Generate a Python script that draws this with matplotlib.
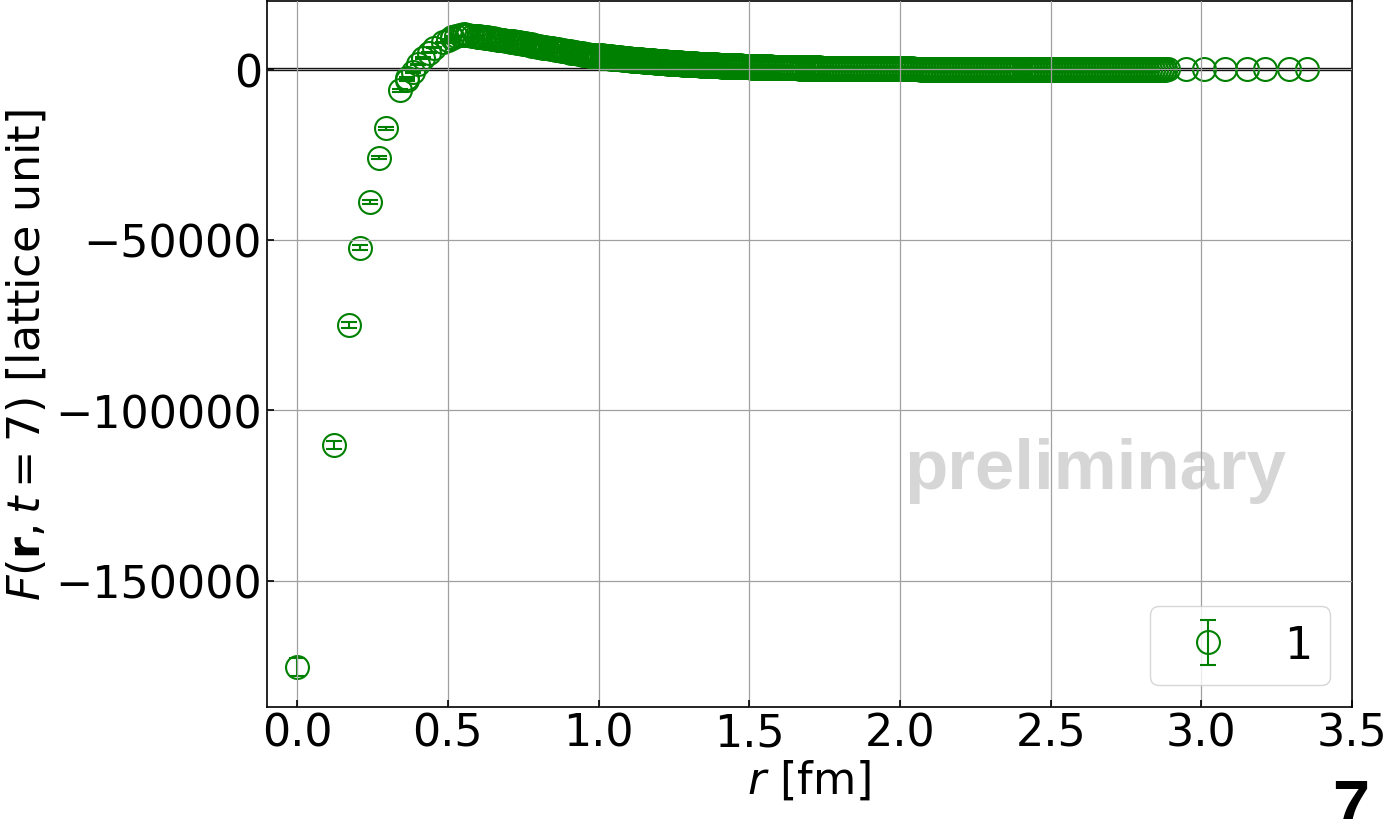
import numpy as np
import matplotlib
matplotlib.use("Agg")
import matplotlib.pyplot as plt


# DATA #

# short distances, error bars visible
r_core = [0.000, 0.121, 0.171, 0.210, 0.242, 0.271, 0.296, 0.342, 0.363, 0.363,
          0.383, 0.401, 0.419, 0.436, 0.453, 0.484, 0.499, 0.513, 0.513, 0.527]
F_core = [-175200, -110200, -75100, -52300, -38900, -26000, -17300, -6200, -2600, -3300,
          -900, 1400, 3300, 4800, 6300, 7900, 8700, 9100, 9500, 9700]
err_core = [2600, 1300, 900, 700, 500, 450, 400, 350, 300, 300,
            250, 250, 200, 200, 200, 150, 150, 150, 150, 150]

# peak region (two sets of lattice points)
r_peak = [0.541, 0.555, 0.568, 0.593, 0.605, 0.605, 0.617, 0.629, 0.640, 0.651,
          0.663, 0.673, 0.684, 0.705, 0.716, 0.726, 0.736, 0.746, 0.756, 0.766,
          0.775, 0.785, 0.794, 0.803, 0.812, 0.821, 0.839, 0.847, 0.856, 0.865,
          0.873, 0.882, 0.890, 0.906, 0.914, 0.922, 0.930, 0.938, 0.946, 0.954,
          0.961, 0.969, 0.977, 0.984, 0.992]
F_peak = [10000, 10200, 10100, 9800, 9300, 9700, 9500, 9300, 9200, 9000,
          8900, 8700, 8600, 8400, 8300, 8100, 7900, 7800, 7600, 7400,
          7300, 7100, 6900, 6800, 6600, 6500, 6200, 6100, 5900, 5800,
          5700, 5500, 5400, 5200, 5000, 4900, 4800, 4700, 4600, 4500,
          4400, 4300, 4200, 4100, 4000]
r_peak2 = [0.548, 0.561, 0.580, 0.599, 0.611, 0.623, 0.634, 0.646, 0.657, 0.668,
           0.679, 0.694, 0.710, 0.721, 0.731, 0.741, 0.751, 0.761, 0.770, 0.780,
           0.789, 0.798, 0.807, 0.816, 0.830, 0.843, 0.852, 0.860, 0.869, 0.878,
           0.886, 0.898, 0.910, 0.918, 0.926, 0.934, 0.942, 0.950, 0.958, 0.965,
           0.973, 0.980, 0.988, 0.996]
F_peak2 = [10100, 10000, 9800, 9500, 9400, 9200, 9100, 8900, 8800, 8600,
           8500, 8300, 8000, 7900, 7700, 7600, 7400, 7300, 7100, 6900,
           6800, 6600, 6500, 6300, 6100, 5900, 5800, 5600, 5500, 5300,
           5200, 5000, 4800, 4700, 4600, 4500, 4400, 4300, 4200, 4100,
           4000, 3900, 3800, 3700]

# dense band 1.00 - 2.88 fm (upper and lower edge of the scatter)
r_band = [1.00, 1.01, 1.02, 1.03, 1.04, 1.05, 1.06, 1.07, 1.08, 1.09,
          1.10, 1.11, 1.12, 1.13, 1.14, 1.15, 1.16, 1.17, 1.18, 1.19,
          1.20, 1.21, 1.22, 1.23, 1.24, 1.25, 1.26, 1.27, 1.28, 1.29,
          1.30, 1.31, 1.32, 1.33, 1.34, 1.35, 1.36, 1.37, 1.38, 1.39,
          1.40, 1.41, 1.42, 1.43, 1.44, 1.45, 1.46, 1.47, 1.48, 1.49,
          1.50, 1.51, 1.52, 1.53, 1.54, 1.55, 1.56, 1.57, 1.58, 1.59,
          1.60, 1.61, 1.62, 1.63, 1.64, 1.65, 1.66, 1.67, 1.68, 1.69,
          1.70, 1.71, 1.72, 1.73, 1.74, 1.75, 1.76, 1.77, 1.78, 1.79,
          1.80, 1.81, 1.82, 1.83, 1.84, 1.85, 1.86, 1.87, 1.88, 1.89,
          1.90, 1.91, 1.92, 1.93, 1.94, 1.95, 1.96, 1.97, 1.98, 1.99,
          2.00, 2.01, 2.02, 2.03, 2.04, 2.05, 2.06, 2.07, 2.08, 2.09,
          2.10, 2.11, 2.12, 2.13, 2.14, 2.15, 2.16, 2.17, 2.18, 2.19,
          2.20, 2.21, 2.22, 2.23, 2.24, 2.25, 2.26, 2.27, 2.28, 2.29,
          2.30, 2.31, 2.32, 2.33, 2.34, 2.35, 2.36, 2.37, 2.38, 2.39,
          2.40, 2.41, 2.42, 2.43, 2.44, 2.45, 2.46, 2.47, 2.48, 2.49,
          2.50, 2.51, 2.52, 2.53, 2.54, 2.55, 2.56, 2.57, 2.58, 2.59,
          2.60, 2.61, 2.62, 2.63, 2.64, 2.65, 2.66, 2.67, 2.68, 2.69,
          2.70, 2.71, 2.72, 2.73, 2.74, 2.75, 2.76, 2.77, 2.78, 2.79,
          2.80, 2.81, 2.82, 2.83, 2.84, 2.85, 2.86, 2.87, 2.88]
F_band_hi = [4200, 4100, 4000, 3900, 3800, 3700, 3600, 3500, 3400, 3300,
             3200, 3120, 3040, 2960, 2880, 2800, 2730, 2660, 2590, 2520,
             2450, 2380, 2310, 2240, 2170, 2100, 2040, 1980, 1920, 1860,
             1800, 1750, 1700, 1650, 1600, 1550, 1510, 1470, 1430, 1390,
             1350, 1310, 1270, 1230, 1190, 1150, 1120, 1090, 1060, 1030,
             1000, 970, 940, 910, 880, 850, 820, 800, 770, 750,
             720, 700, 680, 660, 640, 620, 600, 590, 570, 560,
             540, 530, 510, 500, 480, 470, 460, 450, 430, 420,
             410, 400, 390, 380, 370, 360, 350, 340, 330, 320,
             310, 300, 290, 290, 280, 270, 260, 250, 250, 240,
             230, 220, 220, 210, 210, 200, 190, 190, 180, 180,
             170, 170, 160, 160, 150, 150, 140, 140, 130, 130,
             120, 120, 120, 110, 110, 110, 100, 100, 100, 90,
             90, 90, 90, 90, 80, 80, 80, 80, 80, 70,
             70, 70, 70, 70, 70, 70, 60, 60, 60, 60,
             60, 60, 60, 60, 60, 60, 60, 60, 50, 50,
             50, 50, 50, 50, 50, 50, 50, 50, 40, 40,
             40, 40, 40, 40, 40, 40, 40, 40, 30, 30,
             30, 30, 30, 30, 30, 20, 20, 20, 20]
F_band_lo = [3500, 3400, 3300, 3200, 3100, 3000, 2920, 2840, 2760, 2680,
             2600, 2520, 2440, 2360, 2280, 2200, 2130, 2060, 1990, 1920,
             1850, 1780, 1710, 1640, 1570, 1500, 1440, 1380, 1320, 1260,
             1200, 1160, 1120, 1080, 1040, 1000, 960, 920, 880, 840,
             800, 770, 740, 710, 680, 650, 620, 590, 560, 530,
             500, 480, 460, 440, 420, 400, 380, 360, 340, 320,
             300, 280, 270, 250, 240, 220, 210, 200, 180, 170,
             160, 150, 140, 130, 120, 110, 100, 90, 80, 80,
             70, 60, 50, 50, 40, 30, 20, 20, 10, 0,
             0, -10, -10, -20, -30, -30, -40, -40, -50, -50,
             -60, -70, -70, -80, -80, -90, -90, -100, -110, -110,
             -120, -120, -130, -130, -140, -140, -150, -150, -160, -160,
             -170, -170, -180, -180, -180, -190, -190, -190, -200, -200,
             -200, -200, -210, -210, -210, -210, -210, -220, -220, -220,
             -220, -220, -220, -230, -230, -230, -230, -230, -230, -230,
             -230, -230, -230, -230, -230, -230, -230, -230, -230, -230,
             -230, -230, -230, -230, -230, -220, -220, -220, -220, -220,
             -220, -220, -220, -210, -210, -210, -210, -200, -200, -200,
             -200, -190, -190, -180, -170, -170, -160, -160, -150]

# sparse tail near the box corner
r_tail = [2.89, 2.95, 3.01, 3.08, 3.15, 3.21, 3.29, 3.35]
F_tail = [-50, -30, -20, -10, -10, 0, 0, 0]

assert len(r_peak) == len(F_peak) and len(r_peak2) == len(F_peak2)
assert len(r_band) == len(F_band_hi) == len(F_band_lo)

xticks = [0.0, 0.5, 1.0, 1.5, 2.0, 2.5, 3.0, 3.5]
yticks = [-150000, -100000, -50000, 0]


# PLOT #

fs = 32
plt.rcParams['font.family'] = 'DejaVu Sans'
plt.rcParams['mathtext.fontset'] = 'dejavusans'

fig = plt.figure(figsize=(13.95, 8.2), dpi=100)
ax = fig.add_axes([0.1914, 0.1366, 0.7778, 0.861])

col = 'green'
mk = dict(fmt='o', color=col, mfc='none', ms=16.5, mew=1.5)
ax.errorbar(r_core, F_core, yerr=err_core, elinewidth=1.5, capsize=6, capthick=1.5,
            label='1', zorder=2, **mk)
for rr, ff in [(r_peak, F_peak), (r_peak2, F_peak2), (r_band, F_band_hi),
               (r_band, F_band_lo), (r_tail, F_tail)]:
    ax.errorbar(rr, ff, zorder=2, **mk)

ax.axhline(0, color='black', lw=2.4, zorder=1)

ax.set_xlim(-0.1, 3.5)
ax.set_ylim(-187000, 20000)
ax.set_xticks(xticks)
ax.set_yticks(yticks)
ax.set_xticklabels(['%.1f' % v for v in xticks])

ax.set_axisbelow(False)
ax.grid(True, color='#a0a0a0', lw=0.9)
ax.tick_params(direction='in', labelsize=fs, length=5, width=1.2)
for s in ax.spines.values():
    s.set_linewidth(1.2)

ax.set_xlabel('$r$ [fm]', fontsize=fs, labelpad=2)
ax.set_ylabel(r'$F(\mathbf{r}, t=7)$ [lattice unit]', fontsize=fs, labelpad=5)

ax.text(2.013, -122800, 'preliminary', fontsize=51, color='#d6d6d6',
        family='Liberation Sans', weight='bold', ha='left', va='baseline', zorder=1)

ax.legend(loc='lower right', fontsize=fs, handlelength=1.8)

fig.text(0.968, -0.008, '7', fontsize=48, weight='bold', family='Liberation Sans',
         ha='center', va='baseline')

fig.savefig('out.png', dpi=100)
